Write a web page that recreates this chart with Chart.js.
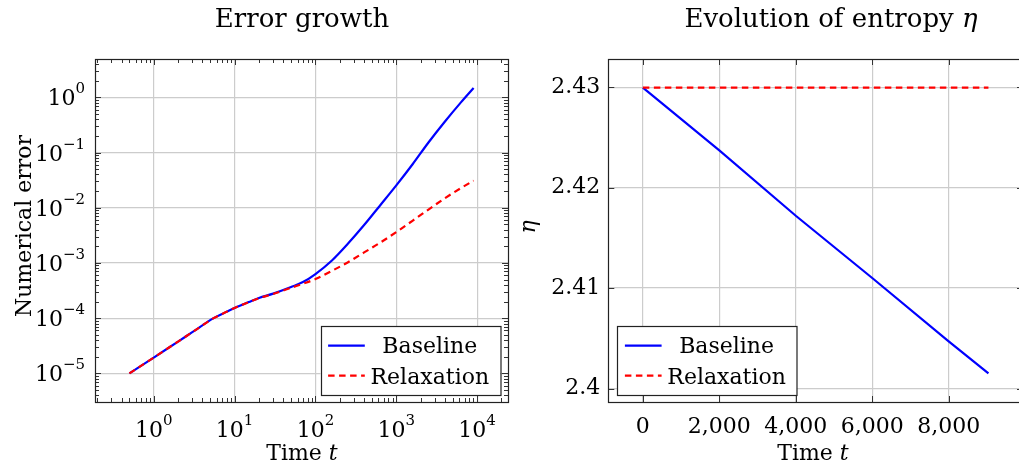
<!DOCTYPE html>
<html>
<head>
<meta charset="utf-8">
<script src="https://cdn.jsdelivr.net/npm/chart.js@4.4.1/dist/chart.umd.min.js"></script>
<style>
  html, body { margin: 0; padding: 0; background: #fff; overflow: hidden; }
  #wrap { position: relative; width: 1019px; height: 467px; overflow: hidden; }
  canvas { position: absolute; top: 0; }
  #errorChart { left: 0; }
  #entropyChart { left: 512px; }
</style>
</head>
<body>
<div id="wrap">
  <canvas id="errorChart" width="512" height="467"></canvas>
  <canvas id="entropyChart" width="516" height="467"></canvas>
</div>
<script>
// left panel: error growth (log-log)
const errorTimes = [0.5, 1, 2, 3, 5.5, 7, 10, 15, 20, 30, 50, 70, 100, 160, 250, 400, 630, 1000, 1600, 2500, 4000, 6300, 9040];
const baselineError = [1.0e-5, 1.93e-5, 3.77e-5, 5.57e-5, 1.0e-4, 1.19e-4, 1.53e-4, 1.96e-4, 2.32e-4, 2.78e-4, 3.66e-4, 4.5e-4, 6.3e-4, 1.11e-3, 2.2e-3, 4.85e-3, 0.011, 0.0254, 0.062, 0.152, 0.365, 0.81, 1.48];
const relaxationError = [1.0e-5, 1.93e-5, 3.77e-5, 5.57e-5, 1.0e-4, 1.19e-4, 1.53e-4, 1.95e-4, 2.3e-4, 2.74e-4, 3.55e-4, 4.2e-4, 5.1e-4, 7.2e-4, 1.02e-3, 1.55e-3, 2.32e-3, 3.63e-3, 5.86e-3, 9.27e-3, 0.0149, 0.0227, 0.031];
const errorTicksX = [1, 10, 100, 1000, 10000];
const errorTicksY = [1e-5, 1e-4, 1e-3, 1e-2, 1e-1, 1];

// right panel: entropy
const entropyTimes = [0, 2000, 4000, 6000, 8000, 9040];
const baselineEntropy = [2.42995, 2.4237, 2.4172, 2.4110, 2.4047, 2.4015];
const relaxationEntropy = [2.42995, 2.42995, 2.42995, 2.42995, 2.42995, 2.42995];
const entropyTicksX = [0, 2000, 4000, 6000, 8000];
const entropyTicksY = [2.40, 2.41, 2.42, 2.43];

const seriesNames = ['Baseline', 'Relaxation'];

const FONT = "'DejaVu Serif', 'Liberation Serif', serif";
const BLUE = '#0000ff';
const RED = '#ff0000';
const DASH = [6.5, 4.5];

function toPoints(xs, ys) {
  return xs.map((x, i) => ({ x: x, y: ys[i] }));
}

function exponentOf(v) {
  return String(Math.round(Math.log10(v))).replace('-', '\u2212');
}

// draw a run of text pieces, some italic, centred on x
function drawRich(ctx, parts, x, y, size) {
  let widths = parts.map(p => {
    ctx.font = (p[1] ? 'italic ' : '') + size + 'px ' + FONT;
    return ctx.measureText(p[0]).width;
  });
  let total = widths.reduce((a, b) => a + b, 0);
  let cx = x - total / 2;
  ctx.textAlign = 'left';
  ctx.textBaseline = 'alphabetic';
  parts.forEach((p, i) => {
    ctx.font = (p[1] ? 'italic ' : '') + size + 'px ' + FONT;
    ctx.fillText(p[0], cx, y);
    cx += widths[i];
  });
}

// "10" with a raised exponent; anchor: 'right' (y axis) or 'center' (x axis)
function drawPow10(ctx, v, x, y, anchor) {
  const base = '10', exp = exponentOf(v);
  ctx.font = '22px ' + FONT;
  const wb = ctx.measureText(base).width;
  ctx.font = '15px ' + FONT;
  const we = ctx.measureText(exp).width;
  const left = anchor === 'right' ? x - wb - we : x - (wb + we) / 2;
  ctx.textAlign = 'left';
  ctx.textBaseline = 'alphabetic';
  ctx.font = '22px ' + FONT;
  ctx.fillText(base, left, y);
  ctx.font = '15px ' + FONT;
  ctx.fillText(exp, left + wb, y - 12);
}

const decorPlugin = {
  id: 'decor',
  afterDatasetsDraw(chart, args, opts) {
    const ctx = chart.ctx;
    const a = chart.chartArea;
    const xs = chart.scales.x, ys = chart.scales.y;
    ctx.save();
    ctx.strokeStyle = '#333';
    ctx.lineWidth = 1;
    ctx.beginPath();
    // major tick marks, inward on all sides
    xs.ticks.forEach(t => {
      const p = Math.round(xs.getPixelForValue(t.value)) + 0.5;
      ctx.moveTo(p, a.top); ctx.lineTo(p, a.top + 6);
      ctx.moveTo(p, a.bottom); ctx.lineTo(p, a.bottom - 6);
    });
    ys.ticks.forEach(t => {
      const p = Math.round(ys.getPixelForValue(t.value)) + 0.5;
      ctx.moveTo(a.left, p); ctx.lineTo(a.left + 6, p);
      ctx.moveTo(a.right, p); ctx.lineTo(a.right - 6, p);
    });
    // minor ticks for log axes
    if (opts.log) {
      for (let k = -6; k <= 5; k++) {
        for (let m = 2; m <= 9; m++) {
          const v = m * Math.pow(10, k);
          if (v > xs.min && v < xs.max) {
            const p = Math.round(xs.getPixelForValue(v)) + 0.5;
            ctx.moveTo(p, a.top); ctx.lineTo(p, a.top + 4);
            ctx.moveTo(p, a.bottom); ctx.lineTo(p, a.bottom - 4);
          }
          if (v > ys.min && v < ys.max) {
            const p = Math.round(ys.getPixelForValue(v)) + 0.5;
            ctx.moveTo(a.left, p); ctx.lineTo(a.left + 4, p);
            ctx.moveTo(a.right, p); ctx.lineTo(a.right - 4, p);
          }
        }
      }
    }
    ctx.stroke();
    // frame
    ctx.strokeStyle = '#222';
    ctx.lineWidth = 1.2;
    ctx.strokeRect(Math.round(a.left) + 0.5, Math.round(a.top) + 0.5, Math.round(a.right - a.left), Math.round(a.bottom - a.top));

    // power-of-ten tick labels for log axes
    if (opts.log) {
      ctx.fillStyle = '#000';
      xs.ticks.forEach(t => drawPow10(ctx, t.value, xs.getPixelForValue(t.value), a.bottom + 35, 'center'));
      ys.ticks.forEach(t => drawPow10(ctx, t.value, a.left - 10, ys.getPixelForValue(t.value) + 8, 'right'));
    }

    // legend box
    const lg = opts.legend;
    const bw = 179.5, bh = 69;
    const bx = lg.corner === 'br' ? a.right - lg.dx - bw : a.left + lg.dx;
    const by = a.bottom - lg.dy - bh;
    ctx.fillStyle = '#fff';
    ctx.fillRect(bx, by, bw, bh);
    ctx.strokeStyle = '#222';
    ctx.lineWidth = 1.2;
    ctx.strokeRect(Math.round(bx) + 0.5, Math.round(by) + 0.5, bw, bh);
    const rows = [[seriesNames[0], BLUE, [], 19.7, 7.6], [seriesNames[1], RED, DASH, 49.7, 8.4]];
    rows.forEach(r => {
      ctx.strokeStyle = r[1];
      ctx.lineWidth = 2.2;
      ctx.setLineDash(r[2]);
      ctx.beginPath();
      ctx.moveTo(bx + 7.6, by + r[3]);
      ctx.lineTo(bx + 44.3, by + r[3]);
      ctx.stroke();
      ctx.setLineDash([]);
      ctx.fillStyle = '#000';
      drawRich(ctx, [[r[0], false]], bx + 109.3, by + r[3] + r[4], 22);
    });

    // titles and axis labels
    ctx.fillStyle = '#000';
    drawRich(ctx, opts.title.parts, opts.title.x, opts.title.y, 26);
    drawRich(ctx, opts.xLabel.parts, opts.xLabel.x, opts.xLabel.y, 22);
    ctx.translate(opts.yLabel.x, opts.yLabel.y);
    ctx.rotate(-Math.PI / 2);
    drawRich(ctx, opts.yLabel.parts, 0, 0, 22);
    ctx.restore();
  }
};

const GRID = { color: '#cccccc', lineWidth: 1.2, drawTicks: false };
const TICKFONT = { family: FONT, size: 22 };

// Error growth chart
try {
  new Chart(document.getElementById('errorChart').getContext('2d'), {
    type: 'line',
    data: {
      datasets: [
        { label: seriesNames[0], data: toPoints(errorTimes, baselineError), borderColor: BLUE, borderWidth: 2.2, pointRadius: 0, cubicInterpolationMode: 'monotone', order: 2 },
        { label: seriesNames[1], data: toPoints(errorTimes, relaxationError), borderColor: RED, borderWidth: 2.2, borderDash: DASH, pointRadius: 0, cubicInterpolationMode: 'monotone', order: 1 }
      ]
    },
    options: {
      responsive: false,
      animation: false,
      layout: { padding: { top: 59, right: 4, left: 0, bottom: 0 } },
      plugins: {
        legend: { display: false },
        tooltip: { enabled: false },
        decor: {
          log: true,
          legend: { corner: 'br', dx: 8, dy: 7 },
          title: { parts: [['Error growth', false]], x: 302, y: 27 },
          xLabel: { parts: [['Time ', false], ['t', true]], x: 302, y: 460 },
          yLabel: { parts: [['Numerical error', false]], x: 31, y: 226 }
        }
      },
      scales: {
        x: {
          type: 'logarithmic', min: 0.1877, max: 24085,
          grid: GRID, border: { display: false },
          afterBuildTicks: s => { s.ticks = errorTicksX.map(v => ({ value: v })); },
          afterFit: s => { s.height = 65; },
          ticks: { display: false, autoSkip: false }
        },
        y: {
          type: 'logarithmic', min: 3.03e-6, max: 4.94,
          grid: GRID, border: { display: false },
          afterBuildTicks: s => { s.ticks = errorTicksY.map(v => ({ value: v })); },
          afterFit: s => { s.width = 95; },
          ticks: { display: false, autoSkip: false }
        }
      }
    },
    plugins: [decorPlugin]
  });
} catch (e) {
  console.error('Error chart failed:', e);
}

// Entropy chart
try {
  new Chart(document.getElementById('entropyChart').getContext('2d'), {
    type: 'line',
    data: {
      datasets: [
        { label: seriesNames[0], data: toPoints(entropyTimes, baselineEntropy), borderColor: BLUE, borderWidth: 2.2, pointRadius: 0, tension: 0, order: 2 },
        { label: seriesNames[1], data: toPoints(entropyTimes, relaxationEntropy), borderColor: RED, borderWidth: 2.2, borderDash: DASH, pointRadius: 0, tension: 0, order: 1 }
      ]
    },
    options: {
      responsive: false,
      animation: false,
      layout: { padding: { top: 59, right: 5, left: 0, bottom: 0 } },
      plugins: {
        legend: { display: false },
        tooltip: { enabled: false },
        decor: {
          log: false,
          legend: { corner: 'bl', dx: 9, dy: 7 },
          title: { parts: [['Evolution of entropy ', false], ['\u03B7', true]], x: 319, y: 27 },
          xLabel: { parts: [['Time ', false], ['t', true]], x: 301, y: 460 },
          yLabel: { parts: [['\u03B7', true]], x: 23, y: 227 }
        }
      },
      scales: {
        x: {
          type: 'linear', min: -904, max: 9944,
          grid: GRID, border: { display: false },
          afterBuildTicks: s => { s.ticks = entropyTicksX.map(v => ({ value: v })); },
          afterFit: s => { s.height = 65; },
          ticks: { color: '#000', font: TICKFONT, autoSkip: false, maxRotation: 0, padding: 12, callback: v => v.toLocaleString('en-US') }
        },
        y: {
          type: 'linear', min: 2.39866, max: 2.4328,
          grid: GRID, border: { display: false },
          afterBuildTicks: s => { s.ticks = entropyTicksY.map(v => ({ value: v })); },
          afterFit: s => { s.width = 96.3; },
          ticks: { color: '#000', font: TICKFONT, autoSkip: false, padding: 8, callback: v => String(Number(v.toFixed(2))) }
        }
      }
    },
    plugins: [decorPlugin]
  });
} catch (e) {
  console.error('Entropy chart failed:', e);
}
</script>
</body>
</html>
